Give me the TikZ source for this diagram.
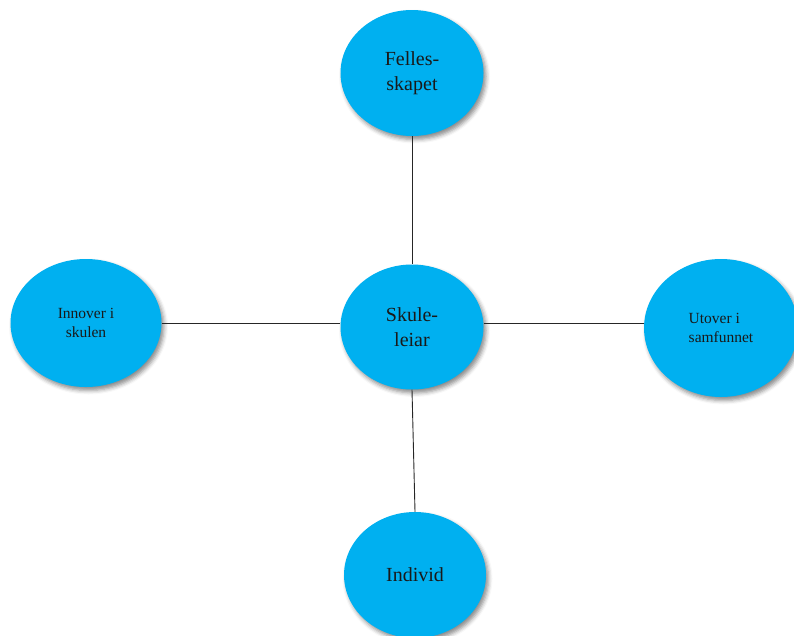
\documentclass[tikz,border=0pt]{standalone}
\usepackage{fontspec}
\setmainfont{Liberation Serif}
\usetikzlibrary{shapes.geometric,shadows.blur}
\definecolor{bubble}{HTML}{00B0F0}
\tikzset{
  bubble/.style={ellipse, fill=bubble, inner sep=0pt, align=center,
    text=black!90,
    blur shadow={shadow xshift=2.5pt, shadow yshift=-3.5pt,
      shadow blur radius=4pt, shadow opacity=45}},
  big/.style={font=\fontsize{20}{25}\selectfont},
  small/.style={font=\fontsize{15.5}{19}\selectfont},
  link/.style={draw=black!85, line width=0.9pt}
}
\begin{document}
\begin{tikzpicture}[x=1pt,y=-1pt]
  \useasboundingbox (0,0) rectangle (794,635);
  \clip (0,0) rectangle (794,635);
  \node[bubble,big,minimum width=143pt,minimum height=126pt] (felles) at (412,73) {Felles-\\skapet};
  \node[bubble,big,minimum width=143pt,minimum height=125pt] (leiar) at (412,327) {Skule-\\leiar};
  \node[bubble,small,minimum width=151pt,minimum height=128pt] (innover) at (86,323) {Innover i\\skulen};
  \node[bubble,small,minimum width=154pt,minimum height=138pt,align=left] (utover) at (721,328) {Utover i\\samfunnet};
  \node[bubble,big,minimum width=142pt,minimum height=126pt] (individ) at (415,575) {Individ};
  \draw[link] (felles.south) -- (leiar.north);
  \draw[link] (leiar.south) -- (individ.north);
  \draw[link] (innover.east) -- (innover.east -| leiar.west);
  \draw[link] (innover.east -| leiar.east) -- (innover.east -| utover.west);
\end{tikzpicture}
\end{document}
